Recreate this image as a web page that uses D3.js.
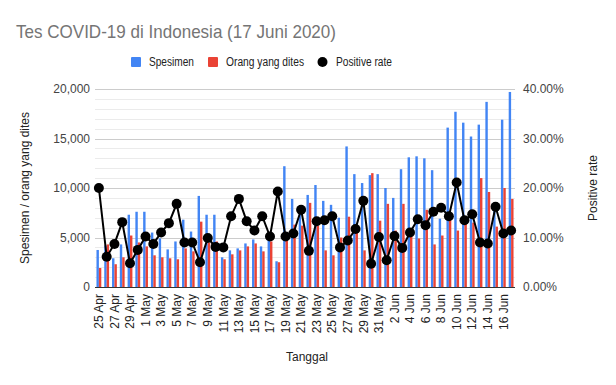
<!DOCTYPE html>
<html>
<head>
<meta charset="utf-8">
<script src="https://cdn.jsdelivr.net/npm/d3@7"></script>
<style>
  body { margin: 0; background: #fff; }
  svg { display: block; font-family: Arial, "Liberation Sans", sans-serif; }
</style>
</head>
<body>
<svg id="chart" width="616" height="385"></svg>
<script>
const dates = ["25 Apr","26 Apr","27 Apr","28 Apr","29 Apr","30 Apr",
  "1 May","2 May","3 May","4 May","5 May","6 May","7 May","8 May","9 May","10 May",
  "11 May","12 May","13 May","14 May","15 May","16 May","17 May","18 May","19 May","20 May",
  "21 May","22 May","23 May","24 May","25 May","26 May","27 May","28 May","29 May","30 May","31 May",
  "1 Jun","2 Jun","3 Jun","4 Jun","5 Jun","6 Jun","7 Jun","8 Jun","9 Jun","10 Jun",
  "11 Jun","12 Jun","13 Jun","14 Jun","15 Jun","16 Jun","17 Jun"];
const spesimen = [3740,4200,2900,4300,7300,7600,
  7600,5500,4900,3800,4600,6800,5600,9200,7300,7300,
  3000,3700,3900,4400,4800,4100,4900,2600,12200,8900,
  7800,9300,10300,8700,8300,7000,14200,11400,10500,11300,11400,
  10000,9000,11900,13100,13200,13000,11800,6900,16100,17700,
  16600,15200,16400,18700,8500,16900,19700];
const orang = [1920,4300,2300,3000,5200,4500,
  4100,3200,3000,2900,2800,3900,3600,6600,4500,4600,
  2800,3300,3700,4100,4400,3600,4600,2500,4800,6300,
  6200,8500,6200,3700,3200,5000,7100,5500,3700,11500,6700,
  8400,5700,8400,5300,4900,7800,4300,5200,7000,5700,
  6400,6500,11000,9600,6100,10000,8900];
const positiveRate = [20.0,6.1,8.7,13.1,4.8,7.5,
  10.2,8.7,11.0,12.9,16.8,9.0,9.0,5.0,9.9,8.1,
  8.0,14.3,17.8,13.3,11.4,14.3,10.2,19.3,10.2,10.8,
  15.6,7.3,13.3,13.5,14.3,8.0,9.4,11.7,17.4,4.7,10.1,
  5.4,10.3,7.9,11.0,13.7,12.5,15.2,16.0,14.3,21.1,
  13.5,14.7,9.0,8.8,16.2,10.8,11.4];
const leftTicks = [0,5000,10000,15000,20000];
const rightTicks = [0,0.1,0.2,0.3,0.4];
const seriesNames = ["Spesimen","Orang yang dites","Positive rate"];
const colors = ["#4285f4","#ea4335","#000000"];

const svg = d3.select("#chart");
const L = 95, R = 515, T = 89, B = 287;

const x = d3.scaleBand().domain(dates).range([L, R]).padding(0);
const groupW = x.bandwidth() * 0.62;
const xs = d3.scaleBand().domain(["s","o"]).range([0, groupW]);
const y = d3.scaleLinear().domain([0, 20000]).range([B, T]);
const y2 = d3.scaleLinear().domain([0, 0.4]).range([B, T]);

// minor gridlines
const minor = d3.range(1000, 20001, 1000).filter(v => v % 5000 !== 0);
svg.append("g").selectAll("line").data(minor).join("line")
  .attr("x1", L).attr("x2", R)
  .attr("y1", d => Math.round(y(d)) + 0.5).attr("y2", d => Math.round(y(d)) + 0.5)
  .attr("stroke", "#ebebeb").attr("stroke-width", 1);
// major gridlines
svg.append("g").selectAll("line").data(leftTicks.filter(d => d > 0)).join("line")
  .attr("x1", L).attr("x2", R)
  .attr("y1", d => Math.round(y(d)) + 0.5).attr("y2", d => Math.round(y(d)) + 0.5)
  .attr("stroke", "#cccccc").attr("stroke-width", 1);

// bars
const bars = svg.append("g");
bars.selectAll(".bs").data(spesimen).join("rect")
  .attr("x", (d, i) => x(dates[i]) + (x.bandwidth() - groupW) / 2 + xs("s"))
  .attr("width", xs.bandwidth())
  .attr("y", d => y(d)).attr("height", d => B - y(d))
  .attr("fill", colors[0]);
bars.selectAll(".bo").data(orang).join("rect")
  .attr("x", (d, i) => x(dates[i]) + (x.bandwidth() - groupW) / 2 + xs("o"))
  .attr("width", xs.bandwidth())
  .attr("y", d => y(d)).attr("height", d => B - y(d))
  .attr("fill", colors[1]);

// baseline
svg.append("line").attr("x1", L).attr("x2", R)
  .attr("y1", B + 0.5).attr("y2", B + 0.5).attr("stroke", "#333").attr("stroke-width", 1);

// line
const cx = (d, i) => x(dates[i]) + x.bandwidth() / 2;
svg.append("path").datum(positiveRate)
  .attr("d", d3.line().x(cx).y(d => y2(d / 100)))
  .attr("fill", "none").attr("stroke", "#000").attr("stroke-width", 2);
svg.append("g").selectAll("circle").data(positiveRate).join("circle")
  .attr("cx", cx).attr("cy", d => y2(d / 100)).attr("r", 5).attr("fill", "#000");

// left axis
const fmtL = d3.format(",");
const yAxis = d3.axisLeft(y).tickValues(leftTicks).tickFormat(fmtL).tickSize(0).tickPadding(5);
const gy = svg.append("g").attr("transform", `translate(${L},0)`).call(yAxis);
gy.select(".domain").remove();
gy.selectAll("text").attr("font-size", 12).attr("fill", "#444").attr("font-family", "Arial, 'Liberation Sans', sans-serif");

// right axis
const fmtR = d3.format(".2%");
const y2Axis = d3.axisRight(y2).tickValues(rightTicks).tickFormat(fmtR).tickSize(0).tickPadding(8);
const gy2 = svg.append("g").attr("transform", `translate(${R},0)`).call(y2Axis);
gy2.select(".domain").remove();
gy2.selectAll("text").attr("font-size", 12).attr("fill", "#444").attr("font-family", "Arial, 'Liberation Sans', sans-serif");

// x axis
const xLabels = dates.filter((d, i) => i % 2 === 0);
const xAxis = d3.axisBottom(x).tickValues(xLabels).tickSize(0).tickPadding(0);
const gx = svg.append("g").attr("transform", `translate(0,${B})`).call(xAxis);
gx.select(".domain").remove();
gx.selectAll("text")
  .attr("font-size", 12).attr("fill", "#222").attr("font-family", "Arial, 'Liberation Sans', sans-serif")
  .attr("transform", "rotate(-90)")
  .attr("text-anchor", "end")
  .attr("x", -7).attr("y", 0).attr("dy", "0.35em");

// axis titles
svg.append("text").attr("x", 307).attr("y", 361).attr("text-anchor", "middle")
  .attr("font-size", 12).attr("fill", "#222").text("Tanggal");
svg.append("text").attr("transform", "translate(29,188) rotate(-90)").attr("text-anchor", "middle")
  .attr("font-size", 12).attr("fill", "#222").text("Spesimen / orang yang dites");
svg.append("text").attr("transform", "translate(597,188) rotate(-90)").attr("text-anchor", "middle")
  .attr("font-size", 12).attr("fill", "#222").text("Positive rate");

// title
svg.append("text").attr("x", 16).attr("y", 38)
  .attr("font-size", 19).attr("fill", "#757575")
  .attr("textLength", 320).attr("lengthAdjust", "spacingAndGlyphs")
  .text("Tes COVID-19 di Indonesia (17 Juni 2020)");

// legend
const legendX = [131, 208, 318];
const legendW = [45, 78, 56];
const lg = svg.append("g");
seriesNames.forEach((name, i) => {
  if (i < 2) {
    lg.append("rect").attr("x", legendX[i]).attr("y", 57).attr("width", 10).attr("height", 10)
      .attr("rx", 1).attr("fill", colors[i]);
  } else {
    lg.append("circle").attr("cx", legendX[i] + 4.5).attr("cy", 62).attr("r", 5).attr("fill", colors[i]);
  }
  lg.append("text").attr("x", legendX[i] + 18).attr("y", 66)
    .attr("font-size", 12).attr("fill", "#222")
    .attr("textLength", legendW[i]).attr("lengthAdjust", "spacingAndGlyphs")
    .text(name);
});
</script>
</body>
</html>
